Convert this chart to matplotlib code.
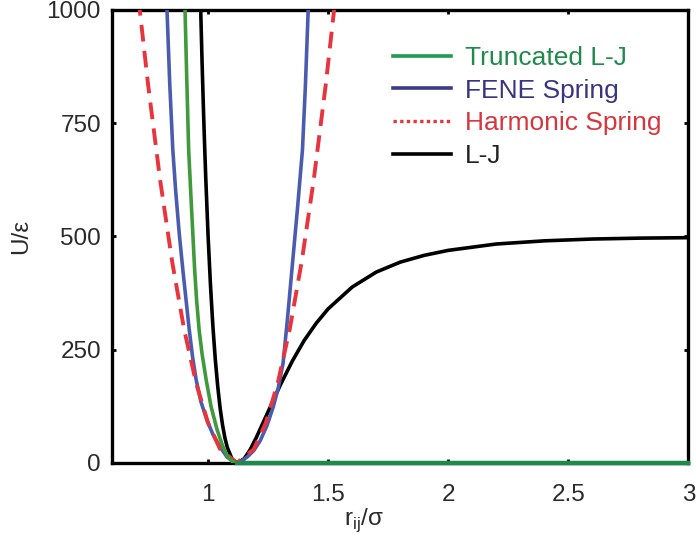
import matplotlib
matplotlib.use("Agg")
import matplotlib.pyplot as plt
from matplotlib.lines import Line2D

plt.rcParams['font.family'] = ['Liberation Sans', 'DejaVu Sans']

# values
trunc_r = [0.902, 0.911, 0.919, 0.93, 0.944, 0.952, 0.9625, 0.975, 0.992, 1.012, 1.0375,
           1.06, 1.08, 1.10, 1.12, 1.5, 2.0, 2.5, 3.0]
trunc_u = [1040, 850, 691, 572, 426, 360, 294, 240, 183, 125, 73,
           38, 15, 3, 0, 0, 0, 0, 0]

fene_r = [0.826, 0.84, 0.853, 0.865, 0.88, 0.896, 0.921, 0.935, 0.95, 0.97, 0.996, 1.02,
          1.05, 1.08, 1.12, 1.14, 1.1625, 1.19, 1.217, 1.245, 1.271, 1.292, 1.3125,
          1.33, 1.349, 1.372, 1.393, 1.405, 1.42]
fene_u = [1040, 840, 691, 600, 505, 420, 296, 235, 184, 135, 93, 63,
          35, 12, 0, 4, 13, 27, 49, 82, 123, 165, 221,
          315, 426, 560, 691, 830, 1045]

harm_r = [0.71, 0.75, 0.80, 0.85, 0.90, 0.95, 1.00, 1.05, 1.12, 1.19, 1.24, 1.29,
          1.34, 1.39, 1.44, 1.49, 1.53]
harm_u = [1025, 835, 625, 445, 295, 176, 88, 30, 0, 30, 88, 176,
          295, 445, 625, 835, 1025]

lj_r = [0.968, 0.975, 0.98, 0.985, 0.99, 1.0, 1.01, 1.02, 1.03, 1.04, 1.05, 1.06, 1.07,
        1.08, 1.10, 1.122, 1.15, 1.175, 1.2, 1.25, 1.3, 1.35, 1.4, 1.45, 1.5, 1.6,
        1.7, 1.8, 1.9, 2.0, 2.2, 2.4, 2.6, 2.8, 3.0]
lj_u = [1024, 882, 791, 708, 632, 500, 391, 301, 228, 169, 121, 84, 55,
        34, 8, 0, 9, 29, 55, 113, 171, 224, 270, 308, 340, 388,
        421, 443, 458, 469, 483, 490, 494, 496, 497]

x_ticks = [1, 1.5, 2, 2.5, 3]
x_labels = ['1', '1.5', '2', '2.5', '3']
y_ticks = [0, 250, 500, 750, 1000]

green = '#3f9a3c'
blue = '#4b5cb0'
red = '#e8343c'

fig = plt.figure(figsize=(6.96, 5.42), dpi=100)
ax = fig.add_axes([0.161, 0.146, 0.828, 0.836])

ax.plot(lj_r, lj_u, color='black', lw=2.6, zorder=2)
ax.plot(fene_r, fene_u, color=blue, lw=2.6, zorder=3)
ax.plot(harm_r, harm_u, color=red, lw=2.8, dashes=(4.3, 2.4), zorder=4)
ax.plot(trunc_r, trunc_u, color=green, lw=2.6, zorder=5)
ax.plot(trunc_r[-5:], trunc_u[-5:], color='#1e8a4a', lw=3.2, zorder=6, clip_on=False)

ax.set_xlim(0.6, 3)
ax.set_ylim(0, 1000)
ax.set_xticks(x_ticks)
ax.set_xticklabels(x_labels)
ax.set_yticks(y_ticks)

for s in ax.spines.values():
    s.set_linewidth(2.4)
ax.tick_params(direction='in', length=3, width=2, top=True, right=True,
               labelsize=17.5, labelcolor='#2a2a2a')
ax.tick_params(axis='x', pad=15)
ax.tick_params(axis='y', pad=8)

ax.set_ylabel('U/ε', fontsize=17.5, color='#2a2a2a')
ax.yaxis.set_label_coords(-0.139, 0.5)
ax.set_xlabel(r'r$_{\mathregular{ij}}$/σ', fontsize=17.5, color='#2a2a2a')
ax.xaxis.set_label_coords(0.4375, -0.095)

handles = [
    Line2D([], [], color='#1f9a50', lw=2.6),
    Line2D([], [], color='#3b3a8a', lw=2.6),
    Line2D([], [], color=red, lw=2.4, linestyle=(0, (1, 1))),
    Line2D([], [], color='black', lw=2.6),
]
labels = ['Truncated L-J', 'FENE Spring', 'Harmonic Spring', 'L-J']
leg = ax.legend(handles, labels, loc='upper left', bbox_to_anchor=(0.488, 0.92),
                frameon=False, fontsize=19, handlelength=2.2, handletextpad=0.5,
                labelspacing=0.33, borderpad=0, borderaxespad=0,
                labelcolor=['#1f8a4c', '#3b3480', '#d8363e', '#222222'])

fig.savefig('out.png', dpi=100)
